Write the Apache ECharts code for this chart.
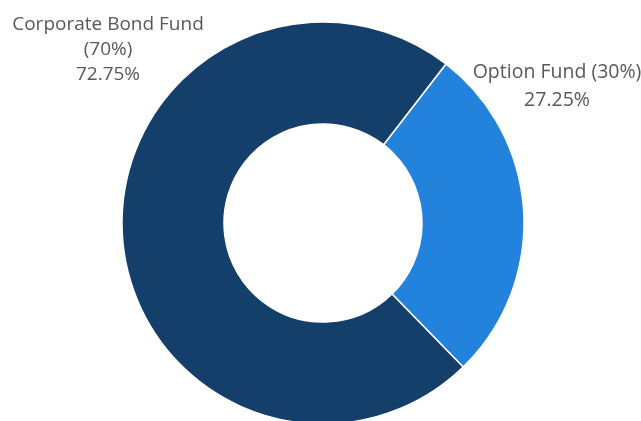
<!DOCTYPE html>
<html><head><meta charset="utf-8">
<script src="https://cdn.jsdelivr.net/npm/echarts@6/dist/echarts.min.js"></script>
<style>html,body{margin:0;padding:0;background:#fff;}#c{width:641px;height:421px;}</style>
</head><body><div id="c"></div>
<script>
var categories = ["Option Fund (30%)", "Corporate Bond Fund\n(70%)"];
var values = [27.25, 72.75];
var colors = ["#2383DC", "#143F6B"];
var labelPos = [[557, 86], [108, 50]];
var labelFont = [19.5, 19];
var labelLH = [28, 25];

var chart = echarts.init(document.getElementById('c'));
chart.setOption({
  animation: false,
  series: [{
    type: 'pie',
    center: [323, 223],
    radius: [99, 201],
    startAngle: 52.3,
    clockwise: true,
    data: categories.map(function (n, i) {
      return { name: n, value: values[i], itemStyle: { color: colors[i] },
               label: { fontSize: labelFont[i], lineHeight: labelLH[i] } };
    }),
    itemStyle: { borderColor: '#fff', borderWidth: 1.5 },
    label: {
      show: true,
      position: 'outside',
      formatter: function (p) { return p.name + '\n' + p.value.toFixed(2) + '%'; },
      fontFamily: 'Open Sans',
      color: '#595959',
      align: 'center',
      overflow: 'none',
      width: 300
    },
    labelLine: { show: false },
    labelLayout: function (params) {
      var p = labelPos[params.dataIndex];
      return { x: p[0], y: p[1], align: 'center', verticalAlign: 'middle', width: 300 };
    }
  }]
});
</script></body></html>
